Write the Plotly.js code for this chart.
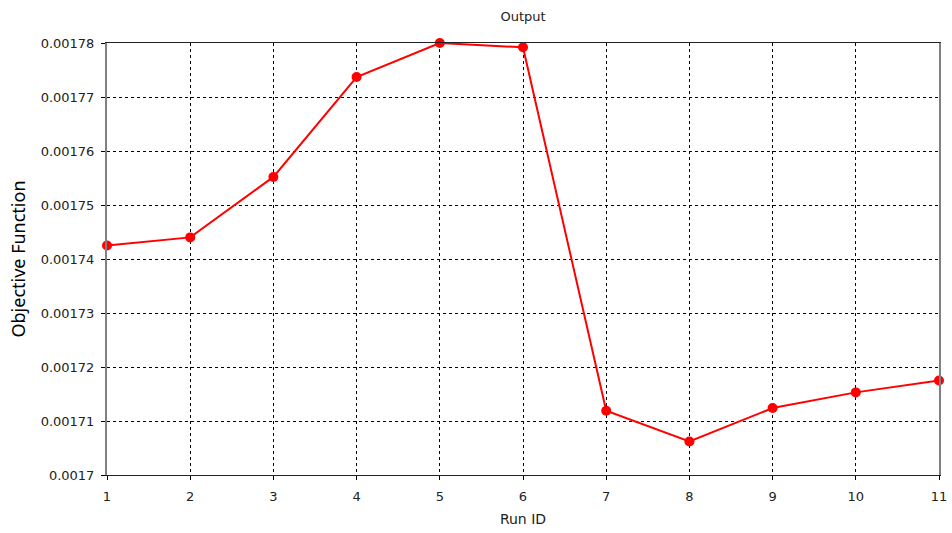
<!DOCTYPE html>
<html>
<head>
<meta charset="utf-8">
<script src="https://cdn.plot.ly/plotly-3.0.1.min.js"></script>
<style>
  html, body { margin: 0; padding: 0; background: #fff; }
  #chart { width: 952px; height: 533px; }
</style>
</head>
<body>
<div id="chart"></div>
<script>
// Objective function value recorded for each run
const runIds = [1, 2, 3, 4, 5, 6, 7, 8, 9, 10, 11];
const objectiveValues = [
  0.0017425, 0.0017440, 0.0017552, 0.0017737, 0.0017800, 0.0017792,
  0.0017119, 0.0017062, 0.0017124, 0.0017153, 0.0017175
];
const yTickValues = [0.0017, 0.00171, 0.00172, 0.00173, 0.00174, 0.00175, 0.00176, 0.00177, 0.00178];
const yTickLabels = ['0.0017', '0.00171', '0.00172', '0.00173', '0.00174', '0.00175', '0.00176', '0.00177', '0.00178'];

const fontFamily = 'DejaVu Sans, Verdana, sans-serif';
const titleFamily = 'Noto Sans, Open Sans, sans-serif';

const trace = {
  x: runIds,
  y: objectiveValues,
  type: 'scatter',
  mode: 'lines+markers',
  line: { color: '#ff0000', width: 2 },
  marker: { color: '#ff0000', size: 10 },
  cliponaxis: false,
  hoverinfo: 'x+y'
};

const layout = {
  width: 952,
  height: 533,
  margin: { l: 107, r: 13, t: 43, b: 58 },
  paper_bgcolor: '#ffffff',
  plot_bgcolor: '#ffffff',
  showlegend: false,
  font: { family: fontFamily, size: 12, color: '#222222' },
  title: {
    text: 'Output',
    font: { family: fontFamily, size: 13, color: '#222222' },
    x: 0.5, xref: 'paper', xanchor: 'center',
    y: 0.970, yref: 'container', yanchor: 'middle'
  },
  xaxis: {
    range: [1, 11],
    tickmode: 'array',
    tickvals: runIds,
    ticktext: runIds.map(String),
    ticks: 'outside',
    ticklen: 4,
    tickcolor: '#000000',
    tickfont: { family: fontFamily, size: 13, color: '#222222' },
    ticklabelstandoff: 5,
    showgrid: true,
    gridcolor: '#000000',
    gridwidth: 1,
    griddash: 'dot',
    zeroline: false,
    showline: true,
    linecolor: '#222222',
    linewidth: 1,
    mirror: true,
    title: {
      text: 'Run ID',
      font: { family: fontFamily, size: 14, color: '#222222' },
      standoff: 11
    }
  },
  yaxis: {
    range: [0.0017, 0.00178],
    tickmode: 'array',
    tickvals: yTickValues,
    ticktext: yTickLabels,
    ticks: 'outside',
    ticklen: 4,
    tickcolor: '#000000',
    tickfont: { family: fontFamily, size: 13, color: '#222222' },
    ticklabelstandoff: 4,
    showgrid: true,
    gridcolor: '#000000',
    gridwidth: 1,
    griddash: 'dot',
    zeroline: false,
    showline: true,
    linecolor: '#808080',
    linewidth: 2,
    mirror: true,
    title: {
      text: 'Objective Function',
      font: { family: titleFamily, size: 18, color: '#000000' },
      standoff: 10
    }
  }
};

Plotly.newPlot('chart', [trace], layout, { displayModeBar: false, staticPlot: true });
</script>
</body>
</html>
